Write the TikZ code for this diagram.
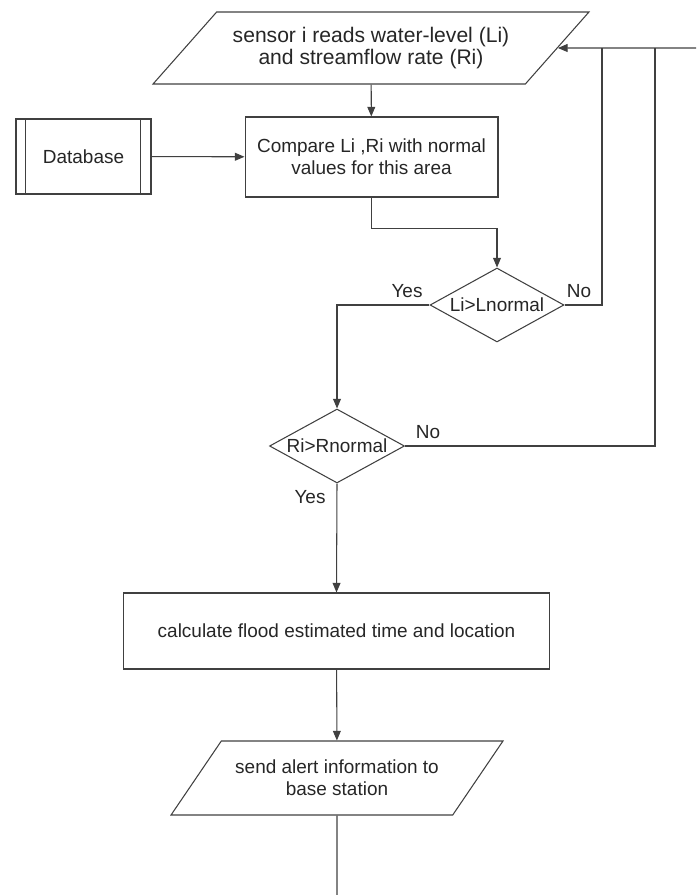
\documentclass[tikz,border=0pt]{standalone}
\usepackage{fontspec}
\setmainfont{Liberation Sans}
\usepackage{tikz}
\usetikzlibrary{arrows.meta,positioning,shapes.geometric}

\begin{document}
\begin{tikzpicture}[
		x=0.02cm, y=-0.02cm,
		line width=0.6pt, draw=black!75, text=black!85,
		font=\fontsize{10.8}{12.5}\selectfont,
		box/.style={draw, rectangle, align=center, inner sep=2pt},
		io/.style={draw, trapezium, trapezium stretches body=true,
			align=center, inner sep=2pt},
		decision/.style={draw, diamond, aspect=1.8, inner sep=0pt, align=center},
		arrow/.style={-{Triangle[length=5.5pt, width=4.5pt]}},
		lbl/.style={inner sep=0pt},
		]
		\useasboundingbox (0,0) rectangle (696,895);
		
		\node[io, trapezium left angle=37.9, trapezium right angle=142.1,
			minimum width=8.72cm, minimum height=1.44cm,
			font=\fontsize{12}{13}\selectfont] (sensor) at (371,48)
		{sensor i reads water-level (Li)\\and streamflow rate (Ri)};
		\node[box, minimum width=5.06cm, minimum height=1.6cm] (compare) at (371.5,157)
		{Compare Li ,Ri with normal\\values for this area};
		\node[box, minimum width=2.7cm, minimum height=1.5cm] (db) at (83.5,156.5) {Database};
		\draw ([xshift=0.2cm]db.north west) -- ([xshift=0.2cm]db.south west);
		\draw ([xshift=-0.22cm]db.north east) -- ([xshift=-0.22cm]db.south east);
		\node[decision, minimum width=2.68cm, minimum height=1.48cm] (li) at (497,305) {Li>Lnormal};
		\node[decision, minimum width=2.7cm, minimum height=1.48cm] (ri) at (337,446) {Ri>Rnormal};
		\node[box, minimum width=8.54cm, minimum height=1.52cm] (calc) at (336.5,631)
		{calculate flood estimated time and location};
		\node[io, trapezium left angle=40.5, trapezium right angle=139.5,
			minimum width=6.64cm, minimum height=1.48cm] (send) at (337,778)
		{send alert information to\\base station};
		
		\coordinate (j1) at (602,48);
		\coordinate (j2) at (655,48);
		\coordinate (back) at (696,48);
		\coordinate (out) at (337,895);
		
		\draw[arrow] (sensor) -- (compare);
		\draw[arrow] (db) -- (compare);
		\draw[arrow] (compare.south) -- ++(0,31) -| (li.north);
		\draw[arrow] (li.west) -| (ri.north);
		\draw (li.east) -| (j1);
		\draw (ri.east) -| (j2);
		\draw[arrow] (back) -- (sensor.east);
		\draw[arrow] (ri.south) -- (calc.north);
		\draw[arrow] (calc) -- (send);
		\draw (send.south) -- (out);
		
		\node[lbl] (liyes) at (407,291) {Yes};
		\node[lbl] (lino) at (579,291) {No};
		\node[lbl] (rino) at (428,432) {No};
		\node[lbl] (riyes) at (310,497) {Yes};
		
	\end{tikzpicture}
\end{document}
